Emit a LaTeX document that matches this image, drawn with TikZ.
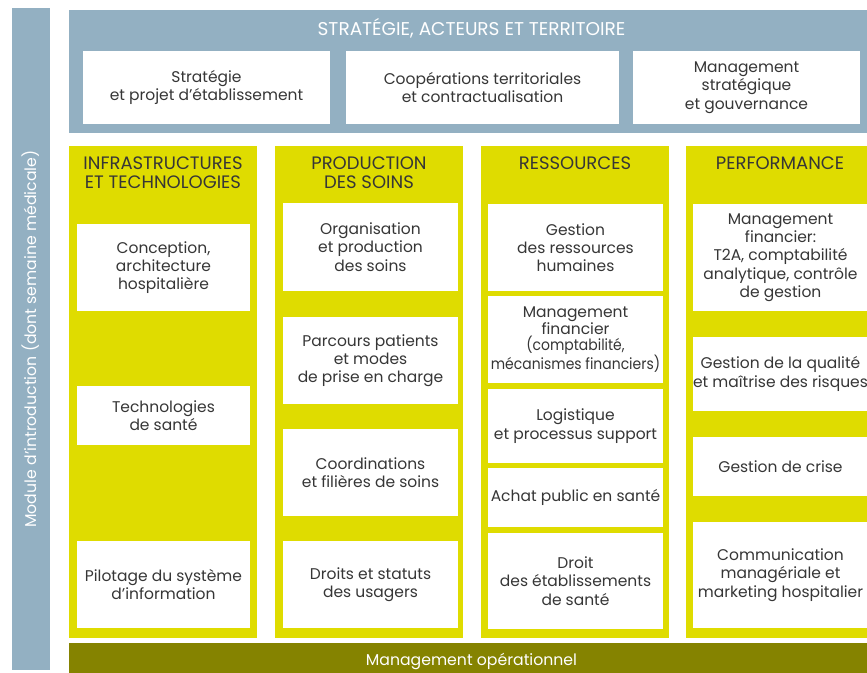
\documentclass[tikz,border=0pt]{standalone}
\usepackage{fontspec}
\setmainfont{Poppins}
\usetikzlibrary{positioning}

\definecolor{bleugris}{HTML}{93B0C2}
\definecolor{jaune}{HTML}{DFDC00}
\definecolor{olive}{HTML}{858300}
\definecolor{texte}{HTML}{363636}

\begin{document}
\begin{tikzpicture}[x=1pt,y=-1pt,
    bande/.style={fill=bleugris, text=white, inner sep=0pt, font=\fontsize{15.7}{18}\selectfont},
    colonne/.style={fill=jaune, minimum width=188pt, minimum height=492pt, inner sep=0pt},
    entete/.style={text=texte, align=center, inner sep=0pt, font=\fontsize{18}{18.5}\selectfont},
    case/.style={fill=white, text=texte, align=center, inner sep=0pt, font=\fontsize{15.5}{18.3}\selectfont}]

      % page size
      \useasboundingbox[fill=white] (0,0) rectangle (867,672);

      % left bar
      \node[bande, rotate=90, minimum width=662pt, minimum height=38pt] (intro) at (31,339) {Module d’introduction (dont semaine médicale)};

      % top band and its boxes
      \node[bande, minimum width=805pt, minimum height=123pt] (strategie) at (471.5,71.5) {};
      \node[bande, below=8pt of strategie.north, font=\fontsize{18.5}{20}\selectfont] (titre) {STRATÉGIE, ACTEURS ET TERRITOIRE};
      \node[case, minimum width=247pt, minimum height=73pt] (projet) at (206.5,87.5) {Stratégie\\et projet d’établissement};
      \node[case, minimum width=273pt, minimum height=73pt] (cooperations) at (482.5,87.5) {Coopérations territoriales\\et contractualisation};
      \node[case, minimum width=227pt, minimum height=73pt] (gouvernance) at (746.5,87.5) {Management\\stratégique\\et gouvernance};

      % columns
      \node[colonne] (infra) at (163,392) {};
      \node[colonne] (production) at (369,392) {};
      \node[colonne] (ressources) at (575,392) {};
      \node[colonne] (performance) at (780,392) {};
      \node[entete, below=11pt of infra.north] {INFRASTRUCTURES\\ET TECHNOLOGIES};
      \node[entete, below=11pt of production.north] {PRODUCTION\\DES SOINS};
      \node[entete, below=11pt of ressources.north] {RESSOURCES};
      \node[entete, below=11pt of performance.north] {PERFORMANCE};

      % infrastructures et technologies
      \node[case, minimum width=173pt, minimum height=87pt] (conception) at (163.5,267.5) {Conception,\\architecture\\hospitalière};
      \node[case, minimum width=173pt, minimum height=59pt] (technologies) at (163.5,415.5) {Technologies\\de santé};
      \node[case, minimum width=173pt, minimum height=87pt] (pilotage) at (163.5,584.5) {Pilotage du système\\d’information};

      % production des soins
      \node[case, minimum width=175pt, minimum height=88pt] (organisation) at (370.5,247) {Organisation\\et production\\des soins};
      \node[case, minimum width=175pt, minimum height=87pt] (parcours) at (370.5,360.5) {Parcours patients\\et modes\\de prise en charge};
      \node[case, minimum width=175pt, minimum height=87pt] (filieres) at (370.5,472.5) {Coordinations\\et filières de soins};
      \node[case, minimum width=175pt, minimum height=87pt] (usagers) at (370.5,584.5) {Droits et statuts\\des usagers};

      % ressources
      \node[case, minimum width=175pt, minimum height=87pt, font=\fontsize{15.5}{16}\selectfont] (financier) at (575.5,339.5) {Management\\financier\\\scalebox{0.9}[1]{(comptabilité,}\\\scalebox{0.9}[1]{mécanismes financiers)}};
      \node[case, minimum width=175pt, minimum height=87pt] (rh) at (575.5,247.5) {Gestion\\des ressources\\humaines};
      \node[case, minimum width=175pt, minimum height=74pt] (logistique) at (575.5,426) {Logistique\\et processus support};
      \node[case, minimum width=175pt, minimum height=59pt] (achat) at (575.5,497.5) {Achat public en santé};
      \node[case, minimum width=175pt, minimum height=96pt] (droit) at (575.5,581) {Droit\\des établissements\\de santé};

      % performance
      \node[case, minimum width=175pt, minimum height=107pt] (t2a) at (780.5,257.5) {Management\\financier:\\T2A, comptabilité\\analytique, contrôle\\de gestion};
      \node[case, minimum width=175pt, minimum height=74pt] (qualite) at (780.5,374) {Gestion de la qualité\\et maîtrise des risques};
      \node[case, minimum width=175pt, minimum height=59pt] (crise) at (780.5,466.5) {Gestion de crise};
      \node[case, minimum width=175pt, minimum height=106pt] (communication) at (780.5,575) {Communication\\managériale et\\marketing hospitalier};

      % bottom band
      \node[bande, fill=olive, minimum width=805pt, minimum height=36pt] (operationnel) at (471.5,661) {Management opérationnel};
    \end{tikzpicture}
\end{document}
